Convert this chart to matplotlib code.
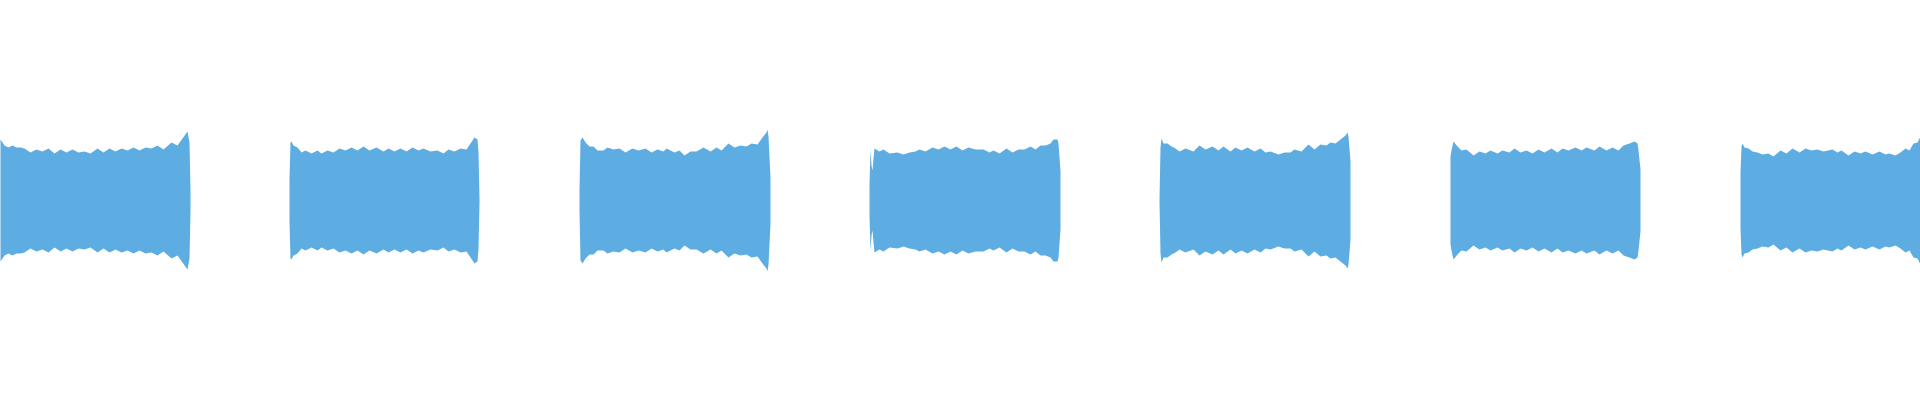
import numpy as np
from matplotlib import pyplot as plt

# waveform envelope, 7 sound segments (time in ms, peak level)
t1 = [0, 4, 8, 12, 16, 20, 24, 30, 36, 42, 48, 54, 60, 66, 72, 78, 84, 90, 97, 103,
      109, 115, 121, 127, 133, 139, 145, 151, 157, 163, 171, 177, 182, 187, 189, 190]
a1 = [61, 55, 53, 55, 53, 53, 52, 48, 51, 49, 52, 47, 51, 48, 51, 48, 49, 47, 52, 48,
      52, 49, 52, 50, 53, 50, 53, 52, 55, 51, 58, 55, 62, 69, 58, 10]

t2 = [289, 290, 291, 293, 297, 301, 305, 311, 317, 321, 327, 333, 339, 345, 351, 357,
      363, 369, 376, 383, 388, 394, 400, 406, 412, 418, 423, 430, 437, 443, 448, 454,
      460, 466, 470, 474, 477, 478, 479]
a2 = [22, 58, 59, 55, 53, 48, 50, 47, 50, 47, 50, 48, 52, 50, 53, 50,
      54, 50, 53, 49, 52, 49, 52, 49, 53, 50, 52, 49, 50, 47, 51, 49,
      52, 51, 57, 63, 61, 48, 2]

t3 = [579, 580, 582, 585, 589, 593, 597, 603, 607, 613, 619, 625, 632, 638, 645, 651,
      657, 663, 666, 674, 679, 684, 690, 696, 703, 710, 716, 721, 728, 734, 740, 746,
      751, 757, 762, 766, 767, 768, 770]
a3 = [10, 60, 63, 58, 54, 54, 50, 50, 53, 51, 52, 48, 52, 50, 52, 48,
      51, 49, 52, 48, 50, 45, 49, 49, 53, 49, 53, 50, 57, 53, 55, 54,
      57, 56, 63, 68, 71, 64, 23]

t4 = [869, 870, 871, 872, 873, 874, 879, 883, 889, 897, 903, 909, 915, 919, 925, 932,
      938, 944, 950, 956, 962, 968, 975, 983, 989, 993, 999, 1006, 1012, 1018, 1024,
      1030, 1035, 1040, 1045, 1050, 1053, 1057, 1058, 1060]
a4 = [15, 50, 35, 30, 42, 52, 49, 51, 47, 48, 46, 48, 49, 51, 49, 53,
      51, 54, 51, 54, 50, 53, 51, 51, 48, 50, 47, 52, 48, 51, 51,
      54, 51, 55, 55, 57, 61, 61, 57, 29]

t5 = [1159, 1160, 1161, 1163, 1167, 1171, 1175, 1179, 1185, 1193, 1199, 1205, 1212,
      1218, 1223, 1230, 1235, 1241, 1247, 1254, 1260, 1265, 1270, 1278, 1284, 1290,
      1294, 1301, 1308, 1314, 1320, 1326, 1330, 1335, 1340, 1345, 1347, 1348, 1350]
a5 = [1, 53, 62, 57, 57, 54, 52, 49, 52, 49, 55, 51, 54,
      50, 54, 49, 53, 50, 53, 49, 52, 48, 49, 46, 48, 48,
      51, 49, 56, 51, 56, 55, 58, 57, 61, 65, 68, 64, 39]

t6 = [1450, 1451, 1453, 1457, 1461, 1466, 1473, 1479, 1485, 1490, 1497, 1502, 1509,
      1514, 1520, 1526, 1532, 1538, 1544, 1551, 1557, 1562, 1568, 1575, 1581, 1586,
      1594, 1599, 1606, 1612, 1618, 1623, 1629, 1634, 1637, 1638, 1640]
a6 = [44, 50, 59, 54, 50, 51, 45, 49, 47, 50, 47, 50, 48,
      52, 48, 50, 47, 51, 48, 52, 48, 52, 50, 53, 50, 53,
      50, 54, 50, 53, 50, 55, 57, 59, 57, 50, 31]

t7 = [1740, 1741, 1742, 1744, 1748, 1752, 1757, 1762, 1768, 1773, 1780, 1786, 1792,
      1799, 1805, 1811, 1817, 1823, 1832, 1837, 1841, 1848, 1854, 1860, 1865, 1872,
      1879, 1885, 1889, 1895, 1900, 1905, 1909, 1913, 1917, 1920]
a7 = [28, 54, 57, 53, 52, 49, 48, 46, 47, 44, 50, 47, 52,
      48, 52, 50, 51, 49, 51, 48, 50, 45, 49, 47, 49, 46,
      49, 46, 47, 45, 48, 52, 50, 57, 58, 64]

segs = [(t1, a1), (t2, a2), (t3, a3), (t4, a4), (t5, a5), (t6, a6), (t7, a7)]

fig = plt.figure(figsize=(19.2, 4), dpi=100)
ax = fig.add_axes([0, 0, 1, 1])
for t, a in segs:
    t = np.array(t)
    a = np.array(a)
    ax.fill_between(t, -a, a, color='#5dade2', linewidth=0)
ax.set_xlim(0, 1920)
ax.set_ylim(-200, 200)
ax.axis('off')
fig.savefig('out.png', dpi=100)
